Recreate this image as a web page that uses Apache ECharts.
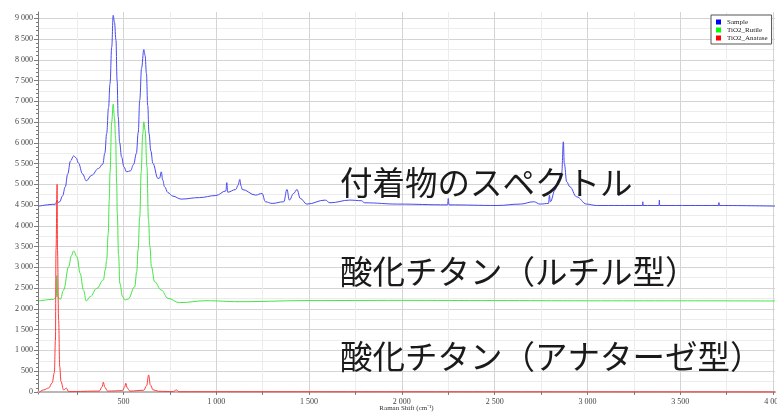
<!DOCTYPE html>
<html>
<head>
<meta charset="utf-8">
<script src="https://cdn.jsdelivr.net/npm/echarts@6/dist/echarts.min.js"></script>
<style>
  html, body {margin: 0; padding: 0; background: #fff;}
  #chart {width: 777px; height: 413px;}
</style>
</head>
<body>
<div id="chart"></div>
<script>
// Raman shift (cm-1) / intensity
const sampleX = [45, 134, 143, 150, 157, 172, 187, 200, 215, 232, 245, 258, 280, 300, 330, 365, 389, 400, 410, 420,
  428, 437, 445, 452, 460, 466, 472, 480, 490, 503, 517, 538, 555, 570, 580, 588, 598, 610, 617, 624,
  631, 638, 648, 659, 686, 695, 704, 712, 722, 740, 766, 811, 909, 998, 1052, 1057, 1062, 1105, 1118, 1127,
  1134, 1140, 1212, 1247, 1265, 1301, 1364, 1381, 1394, 1417, 1435, 1453, 1488, 1587, 1613, 1720, 1782, 1800, 1978, 2246,
  2250, 2254, 2513, 2638, 2710, 2745, 2790, 2795, 2800, 2825, 2843, 2861, 2870, 2875, 2888, 2905, 2941, 2995, 3048, 3296,
  3298, 3300, 3385, 3387, 3389, 3706, 3708, 3710, 4010];
const sampleY = [4475, 4520, 4620, 4560, 4580, 4720, 4940, 5250, 5560, 5686, 5640, 5510, 5250, 5085, 5220, 5380, 5486, 5750, 6225, 6850,
  7430, 8300, 9070, 8900, 8470, 7500, 6625, 6000, 5660, 5420, 5300, 5325, 5480, 5743, 6250, 7026, 7800, 8245, 8100, 7668,
  6900, 6225, 5800, 5503, 5142, 5150, 5300, 5100, 4940, 4800, 4716, 4644, 4680, 4730, 4840, 5040, 4810, 4875, 4980, 5118,
  4960, 4875, 4740, 4780, 4580, 4540, 4580, 4875, 4620, 4780, 4875, 4660, 4524, 4620, 4555, 4620, 4605, 4555, 4524, 4505,
  4660, 4505, 4490, 4524, 4580, 4524, 4540, 4740, 4580, 4860, 5100, 5262, 6023, 5503, 5060, 4940, 4700, 4524, 4490, 4490,
  4580, 4490, 4490, 4620, 4490, 4490, 4560, 4490, 4475];

const rutileX = [45, 125, 139, 141, 145, 160, 178, 205, 220, 232, 250, 267, 285, 300, 321, 357, 392, 403, 410, 418,
  424, 428, 437, 445, 452, 458, 464, 467, 474, 481, 495, 508, 526, 561, 572, 579, 588, 596, 604, 610,
  617, 627, 635, 643, 651, 668, 704, 740, 802, 945, 1123, 1500, 2000, 2500, 3000, 3500, 4010];
const rutileY = [2190, 2230, 2293, 2800, 2300, 2230, 2454, 3015, 3280, 3400, 3256, 2856, 2450, 2190, 2293, 2495, 2695, 2950, 3176, 3800,
  4620, 5300, 6500, 6930, 6600, 6100, 5000, 4300, 3300, 2615, 2300, 2214, 2240, 2533, 2900, 3417, 4200, 5300, 6200, 6505,
  6300, 5420, 4140, 3500, 3015, 2655, 2454, 2255, 2150, 2197, 2173, 2200, 2205, 2200, 2195, 2195, 2190];

const anataseX = [45, 71, 98, 116, 128, 134, 137, 143, 145, 151, 157, 164, 178, 193, 205, 370, 385, 392, 400, 415,
  495, 507, 513, 520, 535, 610, 625, 636, 645, 660, 690, 770, 784, 800, 4010];
const anataseY = [-20, 50, 96, 216, 457, 1250, 3417, 5000, 3417, 1730, 610, 248, 48, 90, 8, 20, 120, 233, 110, 20,
  30, 120, 209, 100, 20, 40, 150, 409, 170, 50, 15, 8, 50, 5, 0];

const xLabels = [500, 1000, 1500, 2000, 2500, 3000, 3500, 4000];
const yLabels = [0, 500, 1000, 1500, 2000, 2500, 3000, 3500, 4000, 4500, 5000, 5500, 6000, 6500, 7000, 7500, 8000, 8500, 9000];
const xMinorLines = [250, 750, 1250, 1750, 2250, 2750, 3250, 3750];
const yMinorLines = [250, 750, 1250, 1750, 2250, 2750, 3250, 3750, 4250, 4750, 5250, 5750, 6250, 6750, 7250, 7750, 8250, 8750];
const yMinorTicks = [];
for (let v = 0; v <= 9100; v += 100) yMinorTicks.push(v);

const zip = (xs, ys) => xs.map((x, i) => [x, ys[i]]);
const fmt = v => String(v).replace(/\B(?=(\d{3})+(?!\d))/g, ' ');

const serif = 'Liberation Serif';
const gridBox = {left: 38, right: 2, top: 12, bottom: 19, outerBoundsMode: 'none', containLabel: false};
const xRange = {min: 40, max: 4010};
const yRange = {min: -50, max: 9150};
const jp = 'Noto Sans CJK JP';

const myChart = echarts.init(document.getElementById('chart'));
myChart.setOption({
  animation: false,
  backgroundColor: '#fff',
  grid: [
    Object.assign({}, gridBox),
    Object.assign({}, gridBox),
    Object.assign({}, gridBox),
  ],
  legend: {
    orient: 'vertical',
    left: 711, top: 15,
    icon: 'rect',
    itemWidth: 5, itemHeight: 5, itemGap: 0,
    padding: [3, 4, 2, 5],
    borderColor: '#555', borderWidth: 1,
    backgroundColor: '#fff',
    textStyle: {fontFamily: serif, fontSize: 7, lineHeight: 8, color: '#222', padding: [0, 0, 0, 1]},
  },
  xAxis: [
    {
      gridIndex: 0, type: 'value', ...xRange,
      name: 'Raman Shift (cm⁻¹)', nameLocation: 'middle', nameGap: 11, nameMoveOverlap: false,
      nameTextStyle: {fontFamily: serif, fontSize: 7, color: '#333', verticalAlign: 'top'},
      axisLine: {lineStyle: {color: '#7a7a7a'}},
      axisTick: {customValues: xLabels, length: 3, lineStyle: {color: '#7a7a7a'}},
      axisLabel: {customValues: xLabels, formatter: fmt, fontFamily: serif, fontSize: 8, color: '#444', margin: 4},
      splitLine: {show: true, lineStyle: {color: '#d4d4d4'}},
    },
    {
      gridIndex: 1, type: 'value', ...xRange, position: 'top',
      axisLine: {show: true, lineStyle: {color: '#b8b8b8', width: 2}},
      axisTick: {show: false}, axisLabel: {show: false}, splitLine: {show: false},
    },
    {
      gridIndex: 2, type: 'value', ...xRange, position: 'bottom',
      axisLine: {show: false},
      axisTick: {customValues: xMinorLines, length: 3, lineStyle: {color: '#7a7a7a'}},
      axisLabel: {show: false},
      splitLine: {show: true, lineStyle: {color: '#ececec'}},
    },
  ],
  yAxis: [
    {
      gridIndex: 0, type: 'value', ...yRange,
      axisLine: {show: true, lineStyle: {color: '#7a7a7a'}},
      axisTick: {show: true, customValues: yLabels, length: 4, lineStyle: {color: '#7a7a7a'}},
      axisLabel: {customValues: yLabels, formatter: fmt, fontFamily: serif, fontSize: 8, color: '#444', margin: 5},
      splitLine: {show: true, lineStyle: {color: '#d4d4d4'}},
    },
    {
      gridIndex: 1, type: 'value', ...yRange,
      axisLine: {show: false},
      axisTick: {show: true, customValues: yMinorTicks, length: 2, lineStyle: {color: '#7a7a7a'}},
      axisLabel: {show: false}, splitLine: {show: false},
    },
    {
      gridIndex: 2, type: 'value', ...yRange,
      axisLine: {show: false},
      axisTick: {show: true, customValues: yMinorLines, length: 0},
      axisLabel: {show: false},
      splitLine: {show: true, lineStyle: {color: '#ececec'}},
    },
  ],
  graphic: [
    {type: 'text', z: 100, left: 340, top: 166, style: {text: '付着物のスペクトル', fontFamily: jp, fontSize: 32.5, fill: '#1a1a1a'}},
    {type: 'text', z: 100, left: 340, top: 255, style: {text: '酸化チタン（ルチル型）', fontFamily: jp, fontSize: 32.5, fill: '#1a1a1a'}},
    {type: 'text', z: 100, left: 340, top: 340, style: {text: '酸化チタン（アナターゼ型）', fontFamily: jp, fontSize: 32.5, fill: '#1a1a1a'}},
  ],
  series: [
    {
      name: 'Sample', type: 'line', xAxisIndex: 0, yAxisIndex: 0,
      data: zip(sampleX, sampleY), showSymbol: false, smooth: 0.4, smoothMonotone: 'x',
      itemStyle: {color: '#0000ff'}, lineStyle: {color: '#4a4af0', width: 1},
    },
    {
      name: 'TiO2_Rutile', type: 'line', xAxisIndex: 0, yAxisIndex: 0,
      data: zip(rutileX, rutileY), showSymbol: false, smooth: 0.4, smoothMonotone: 'x',
      itemStyle: {color: '#00ff00'}, lineStyle: {color: '#44e644', width: 1},
    },
    {
      name: 'TiO2_Anatase', type: 'line', xAxisIndex: 0, yAxisIndex: 0,
      data: zip(anataseX, anataseY), showSymbol: false, smooth: 0.4, smoothMonotone: 'x',
      itemStyle: {color: '#ff0000'}, lineStyle: {color: '#ff3a3a', width: 1},
    },
  ],
});
</script>
</body>
</html>
